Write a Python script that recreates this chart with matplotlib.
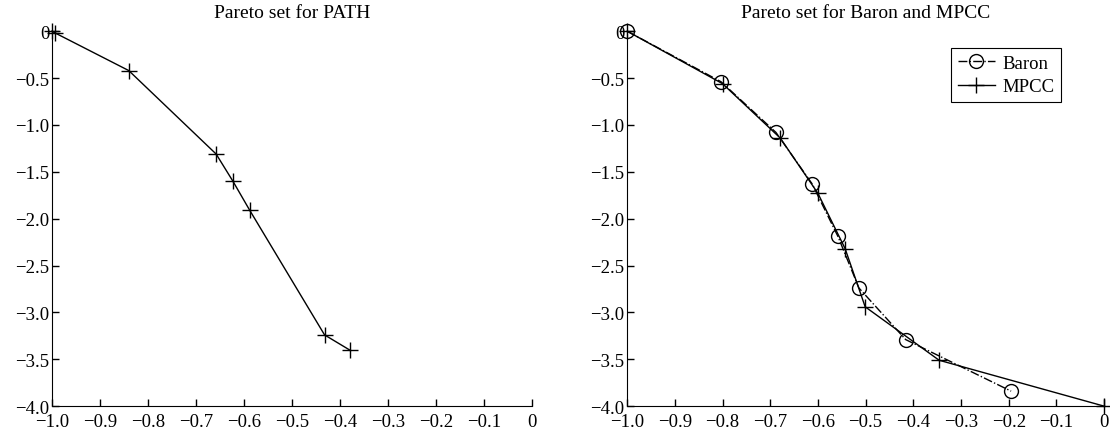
import numpy as np
import matplotlib
matplotlib.use("Agg")
import matplotlib.pyplot as plt
from matplotlib.ticker import FuncFormatter

plt.rcParams['font.family'] = ['Liberation Serif', 'DejaVu Serif']
plt.rcParams['font.size'] = 13.5

# Pareto points
path_x = [-1.0, -0.993, -0.84, -0.658, -0.623, -0.588, -0.432, -0.38]
path_y = [0.0, -0.02, -0.42, -1.31, -1.60, -1.91, -3.24, -3.40]

baron_x = [-1.0, -0.803, -0.688, -0.612, -0.558, -0.514, -0.416, -0.195]
baron_y = [0.0, -0.54, -1.08, -1.63, -2.19, -2.74, -3.29, -3.84]

mpcc_x = [-1.0, -0.80, -0.679, -0.600, -0.543, -0.501, -0.346, 0.0]
mpcc_y = [0.0, -0.56, -1.14, -1.73, -2.32, -2.94, -3.51, -4.0]

xticks = np.round(np.arange(-1.0, 0.01, 0.1), 1)
yticks = np.round(np.arange(-4.0, 0.01, 0.5), 1)


def fmt(v, pos):
    if abs(v) < 1e-9:
        return "0"
    return ("%.1f" % v).replace("-", "\u2212")


def style_axes(ax, title):
    ax.set_xlim(-1.0, 0.0)
    ax.set_ylim(-4.0, 0.0)
    ax.set_xticks(xticks)
    ax.set_yticks(yticks)
    ax.xaxis.set_major_formatter(FuncFormatter(fmt))
    ax.yaxis.set_major_formatter(FuncFormatter(fmt))
    ax.spines['top'].set_visible(False)
    ax.spines['right'].set_visible(False)
    ax.tick_params(direction='in', length=5, width=1, pad=2)
    ax.tick_params(axis='x', pad=5)
    ax.set_title(title, fontsize=14, pad=10)


fig = plt.figure(figsize=(11.1, 4.35), dpi=100)
ax1 = fig.add_axes([0.0468, 0.064, 0.4324, 0.862])
ax2 = fig.add_axes([0.565, 0.064, 0.4297, 0.862])

ax1.plot(path_x, path_y, color='black', lw=1, marker='+', ms=11, mew=1, clip_on=False)
style_axes(ax1, "Pareto set for PATH")

ax2.plot(baron_x, baron_y, color='black', lw=1, ls='-.', marker='o', ms=10,
         mfc='none', mew=1, clip_on=False, label='Baron')
ax2.plot(mpcc_x, mpcc_y, color='black', lw=1, marker='+', ms=11, mew=1,
         clip_on=False, label='MPCC')
style_axes(ax2, "Pareto set for Baron and MPCC")
leg = ax2.legend(loc='upper right', bbox_to_anchor=(0.91, 0.955), fancybox=False,
                 edgecolor='black', framealpha=1, handlelength=2.0,
                 borderpad=0.35, labelspacing=0.35, handletextpad=0.4,
                 borderaxespad=0.0)
leg.get_frame().set_linewidth(0.8)

fig.savefig("out.png", dpi=100)
